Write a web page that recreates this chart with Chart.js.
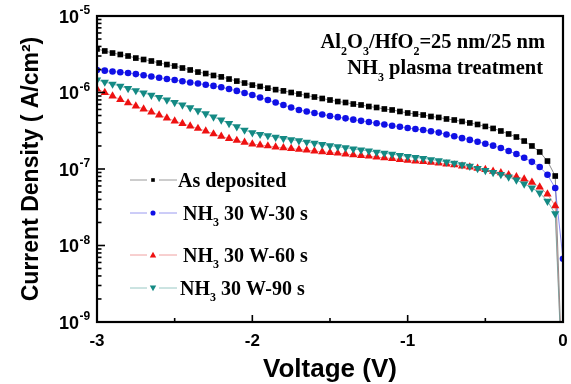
<!DOCTYPE html>
<html><head><meta charset="utf-8">
<script src="https://cdn.jsdelivr.net/npm/chart.js@4.4.1/dist/chart.umd.min.js"></script>
<style>html,body{margin:0;padding:0;background:#fff}canvas{display:block}</style>
</head><body>
<canvas id="c" width="571" height="384"></canvas>
<script>
// ---- data ----
const voltage = [-3.00,-2.95,-2.90,-2.85,-2.80,-2.75,-2.70,-2.65,-2.60,-2.55,-2.50,-2.45,-2.40,-2.35,-2.30,-2.25,-2.20,-2.15,-2.10,-2.05,-2.00,-1.95,-1.90,-1.85,-1.80,-1.75,-1.70,-1.65,-1.60,-1.55,-1.50,-1.45,-1.40,-1.35,-1.30,-1.25,-1.20,-1.15,-1.10,-1.05,-1.00,-0.95,-0.90,-0.85,-0.80,-0.75,-0.70,-0.65,-0.60,-0.55,-0.50,-0.45,-0.40,-0.35,-0.30,-0.25,-0.20,-0.15,-0.10,-0.05,0.00];

const asDeposited = [3.71e-6,3.49e-6,3.28e-6,3.14e-6,3.0e-6,2.82e-6,2.70e-6,2.58e-6,2.43e-6,2.32e-6,
2.22e-6,2.09e-6,1.97e-6,1.85e-6,1.77e-6,1.67e-6,1.60e-6,1.50e-6,1.41e-6,1.33e-6,
1.25e-6,1.20e-6,1.14e-6,1.09e-6,1.05e-6,1.0e-6,9.56e-7,9.13e-7,8.73e-7,8.35e-7,
7.98e-7,7.62e-7,7.40e-7,7.07e-7,6.87e-7,6.56e-7,6.37e-7,6.09e-7,5.91e-7,5.65e-7,
5.40e-7,5.24e-7,5.08e-7,4.86e-7,4.72e-7,4.51e-7,4.37e-7,4.18e-7,4.0e-7,3.82e-7,
3.60e-7,3.39e-7,3.14e-7,2.87e-7,2.62e-7,2.32e-7,2.0e-7,1.67e-7,1.27e-7,8.1e-8,
1e-10];

const nh3W30s = [1.97e-6,1.93e-6,1.88e-6,1.84e-6,1.80e-6,1.74e-6,1.68e-6,1.62e-6,1.56e-6,1.50e-6,
1.46e-6,1.40e-6,1.35e-6,1.31e-6,1.26e-6,1.22e-6,1.17e-6,1.11e-6,1.05e-6,9.85e-7,
9.28e-7,8.6e-7,7.98e-7,7.4e-7,6.87e-7,6.37e-7,5.91e-7,5.65e-7,5.40e-7,5.16e-7,
4.93e-7,4.76e-7,4.59e-7,4.42e-7,4.26e-7,4.11e-7,3.96e-7,3.82e-7,3.68e-7,3.56e-7,
3.43e-7,3.33e-7,3.23e-7,3.12e-7,2.99e-7,2.83e-7,2.68e-7,2.53e-7,2.40e-7,2.27e-7,
2.14e-7,2.02e-7,1.88e-7,1.72e-7,1.57e-7,1.40e-7,1.24e-7,1.06e-7,8.4e-8,5.65e-8,
6.7e-9];

const nh3W60s = [1.11e-6,1.0e-6,9.0e-7,8.1e-7,7.3e-7,6.66e-7,6.09e-7,5.56e-7,5.08e-7,4.64e-7,
4.24e-7,3.93e-7,3.65e-7,3.39e-7,3.14e-7,2.87e-7,2.67e-7,2.50e-7,2.36e-7,2.23e-7,
2.12e-7,2.06e-7,2.0e-7,1.94e-7,1.89e-7,1.85e-7,1.80e-7,1.76e-7,1.72e-7,1.68e-7,
1.64e-7,1.61e-7,1.57e-7,1.53e-7,1.50e-7,1.47e-7,1.43e-7,1.40e-7,1.37e-7,1.33e-7,
1.30e-7,1.27e-7,1.25e-7,1.22e-7,1.19e-7,1.16e-7,1.13e-7,1.09e-7,1.06e-7,1.02e-7,
9.8e-8,9.35e-8,8.9e-8,8.4e-8,7.9e-8,7.4e-8,6.7e-8,5.8e-8,4.7e-8,3.3e-8,
1e-10];

const nh3W90s = [1.46e-6,1.37e-6,1.29e-6,1.21e-6,1.13e-6,1.06e-6,9.9e-7,9.2e-7,8.6e-7,7.98e-7,
7.43e-7,6.87e-7,6.35e-7,5.8e-7,5.3e-7,4.8e-7,4.37e-7,3.95e-7,3.58e-7,3.23e-7,
2.98e-7,2.84e-7,2.72e-7,2.61e-7,2.51e-7,2.42e-7,2.34e-7,2.25e-7,2.17e-7,2.10e-7,
2.02e-7,1.96e-7,1.90e-7,1.83e-7,1.78e-7,1.72e-7,1.66e-7,1.61e-7,1.56e-7,1.51e-7,
1.46e-7,1.42e-7,1.38e-7,1.33e-7,1.29e-7,1.24e-7,1.19e-7,1.14e-7,1.09e-7,1.02e-7,
9.6e-8,9.0e-8,8.5e-8,7.9e-8,7.2e-8,6.4e-8,5.65e-8,4.87e-8,3.8e-8,2.6e-8,
1e-10];

const seriesNames = ['As deposited', ' NH_3 30 W-30 s', ' NH_3 30 W-60 s', ' NH_3 30 W-90 s'];
const xTickValues = [-3, -2, -1, 0];
const yTickExponents = [-9, -8, -7, -6, -5];
const annotationLines = ['Al_2O_3/HfO_2=25 nm/25 nm', 'NH_3 plasma treatment'];

// ---- styles ----
const SANS = '"Liberation Sans", Arial, sans-serif';
const SERIF = '"Liberation Serif", "Times New Roman", serif';
const styles = [
  {color:'#000000', line:'rgba(90,90,90,0.7)',   legendLine:'#9a9a9a', shape:'square'},
  {color:'#1010e6', line:'rgba(90,90,240,0.7)',  legendLine:'#9a9af0', shape:'circle'},
  {color:'#ee1111', line:'rgba(240,110,110,0.7)',legendLine:'#f0a0a0', shape:'up'},
  {color:'#148a84', line:'rgba(80,160,155,0.7)', legendLine:'#98c8c4', shape:'down'}
];
const allSeries = [asDeposited, nh3W30s, nh3W60s, nh3W90s];

function toPoints(vals){ return voltage.map((v,i)=>({x:v, y:vals[i]})); }

const pointCfg = {
  square:{pointStyle:'rect', pointRadius:4.0, rot:0},
  circle:{pointStyle:'circle', pointRadius:3.3, rot:0},
  up:{pointStyle:'triangle', pointRadius:4.8, rot:0},
  down:{pointStyle:'triangle', pointRadius:4.8, rot:180}
};
const drawOrder = [4, 3, 2, 1];

const datasets = allSeries.map((vals, i) => {
  const st = styles[i], pc = pointCfg[st.shape];
  return {
    label: seriesNames[i].replace('_',''),
    data: toPoints(vals),
    borderColor: st.line,
    borderWidth: 1,
    backgroundColor: st.color,
    pointBackgroundColor: st.color,
    pointBorderColor: st.color,
    pointBorderWidth: 0,
    pointStyle: pc.pointStyle,
    pointRadius: pc.pointRadius,
    pointRotation: pc.rot,
    tension: 0,
    order: drawOrder[i]
  };
});

// rich text: '_x' makes x a subscript
function drawRich(ctx, str, x, y, size, family, align){
  const runs = [];
  for (let i = 0; i < str.length; i++) {
    if (str[i] === '_' && i + 1 < str.length) { runs.push({t:str[i+1], sub:true}); i++; }
    else {
      if (runs.length && !runs[runs.length-1].sub) runs[runs.length-1].t += str[i];
      else runs.push({t:str[i], sub:false});
    }
  }
  const main = `bold ${size}px ${family}`, small = `bold ${Math.round(size*0.58)}px ${family}`;
  let total = 0;
  runs.forEach(r => { ctx.font = r.sub ? small : main; r.w = ctx.measureText(r.t).width; total += r.w; });
  let cx = align === 'right' ? x - total : x;
  ctx.textAlign = 'left';
  ctx.textBaseline = 'alphabetic';
  runs.forEach(r => {
    ctx.font = r.sub ? small : main;
    ctx.fillText(r.t, cx, r.sub ? y + size*0.32 : y);
    cx += r.w;
  });
}

function drawMarker(ctx, shape, x, y, s, color){
  ctx.fillStyle = color;
  ctx.beginPath();
  if (shape === 'square') ctx.rect(x - s*0.7, y - s*0.7, s*1.4, s*1.4);
  else if (shape === 'circle') ctx.arc(x, y, s*0.8, 0, Math.PI*2);
  else if (shape === 'up') { ctx.moveTo(x, y - s); ctx.lineTo(x + s, y + s*0.75); ctx.lineTo(x - s, y + s*0.75); ctx.closePath(); }
  else { ctx.moveTo(x, y + s); ctx.lineTo(x + s, y - s*0.75); ctx.lineTo(x - s, y - s*0.75); ctx.closePath(); }
  ctx.fill();
}

const decorPlugin = {
  id: 'decor',
  afterDatasetsDraw(chart){
    const {ctx, chartArea:a, scales:{x, y}} = chart;
    ctx.save();
    ctx.strokeStyle = '#000';
    ctx.lineWidth = 1.6;
    // x ticks (inward)
    xTickValues.forEach((v, i) => {
      const px = x.getPixelForValue(v);
      ctx.beginPath(); ctx.moveTo(px, a.bottom); ctx.lineTo(px, a.bottom - 7); ctx.stroke();
      if (i < xTickValues.length - 1) {
        const pm = x.getPixelForValue((v + xTickValues[i+1]) / 2);
        ctx.beginPath(); ctx.moveTo(pm, a.bottom); ctx.lineTo(pm, a.bottom - 4); ctx.stroke();
      }
    });
    // y ticks (inward)
    yTickExponents.forEach((e, i) => {
      const py = y.getPixelForValue(Math.pow(10, e));
      ctx.beginPath(); ctx.moveTo(a.left, py); ctx.lineTo(a.left + 8, py); ctx.stroke();
      if (i < yTickExponents.length - 1) {
        for (let m = 2; m <= 9; m++) {
          const pm = y.getPixelForValue(m * Math.pow(10, e));
          ctx.beginPath(); ctx.moveTo(a.left, pm); ctx.lineTo(a.left + 4.5, pm); ctx.stroke();
        }
      }
    });
    // frame
    ctx.lineWidth = 2.2;
    ctx.strokeRect(a.left, a.top, a.right - a.left, a.bottom - a.top);

    // y tick labels 10^e
    ctx.fillStyle = '#000';
    yTickExponents.forEach(e => {
      const py = y.getPixelForValue(Math.pow(10, e));
      ctx.font = `bold 18px ${SANS}`;
      ctx.textAlign = 'right'; ctx.textBaseline = 'middle';
      ctx.fillText('10', 79, py + 2);
      ctx.font = `bold 12px ${SANS}`;
      ctx.textAlign = 'left';
      ctx.fillText(String(e), 79.5, py - 5);
    });

    // annotation (top right)
    ctx.fillStyle = '#000';
    drawRich(ctx, annotationLines[0], 545, 48, 20.5, SERIF, 'right');
    drawRich(ctx, annotationLines[1], 543, 74, 20.5, SERIF, 'right');

    // legend
    const rowY = [180, 213, 255, 288];
    const textX = [178, 178, 178, 175];
    seriesNames.forEach((name, i) => {
      const st = styles[i], yy = rowY[i];
      ctx.strokeStyle = st.legendLine; ctx.lineWidth = 1;
      ctx.beginPath(); ctx.moveTo(130, yy); ctx.lineTo(147, yy); ctx.moveTo(159, yy); ctx.lineTo(177, yy); ctx.stroke();
      drawMarker(ctx, st.shape, 153, yy, st.shape === 'square' ? 2.6 : 3.2, st.color);
      ctx.fillStyle = '#000';
      drawRich(ctx, name, textX[i], yy + 6.5, 20, SERIF, 'left');
    });
    ctx.restore();
  }
};

new Chart(document.getElementById('c'), {
  type: 'line',
  data: { datasets },
  options: {
    responsive: false,
    animation: false,
    events: [],
    layout: { autoPadding: false, padding: { left: 0, top: 16, right: 8, bottom: 0 } },
    plugins: { legend: { display: false }, tooltip: { enabled: false } },
    scales: {
      x: {
        type: 'linear', min: -3, max: 0,
        afterBuildTicks(scale){ scale.ticks = xTickValues.map(v => ({value: v})); },
        afterFit(scale){ scale.height = 62; scale.paddingLeft = 0; scale.paddingRight = 0; },
        grid: { display: false, drawTicks: false, tickLength: 0 },
        border: { display: false },
        ticks: { color: '#000', font: { family: SANS, size: 17, weight: 'bold' }, padding: 9, maxRotation: 0,
                 callback: v => String(v) },
        title: { display: true, text: 'Voltage (V)', color: '#000',
                 font: { family: SANS, size: 26, weight: 'bold', lineHeight: 1.1 }, padding: { top: 0, bottom: 0 } }
      },
      y: {
        type: 'logarithmic', min: 1e-9, max: 1e-5,
        afterFit(scale){ scale.width = 97; scale.paddingTop = 0; scale.paddingBottom = 0; },
        grid: { display: false, drawTicks: false },
        border: { display: false },
        ticks: { display: false },
        title: { display: true, text: 'Current Density ( A/cm²)', color: '#000',
                 font: { family: SANS, size: 23, weight: 'bold', lineHeight: 1.2 }, padding: { top: 18, bottom: 0 } }
      }
    }
  },
  plugins: [decorPlugin]
});
</script>
</body></html>
